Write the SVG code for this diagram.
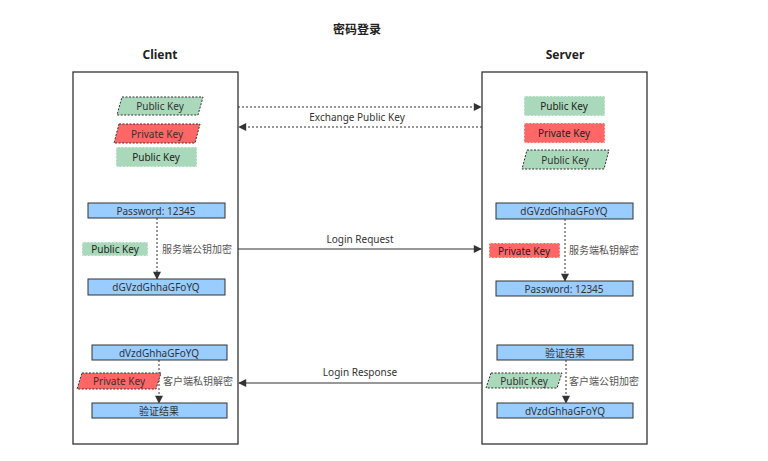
<svg xmlns="http://www.w3.org/2000/svg" width="768" height="461" viewBox="0 0 768 461">
<style>
text{font-family:"Noto Sans","Noto Sans CJK SC",sans-serif;font-size:10px;fill:#333;text-anchor:middle;dominant-baseline:central}
.h{font-size:12px;font-weight:bold;fill:#222}
.lane{fill:#fff;stroke:#333;stroke-width:1.3}
.b{fill:#99ccff;stroke:#333;stroke-width:1}
.g{fill:#a9d9ba}
.r{fill:#ff6666}
.dk{stroke:#333;stroke-width:1;stroke-dasharray:2 1.5}
.lt{stroke:#fff;stroke-width:1;stroke-dasharray:2 1.5}
.lg{fill:#555;text-anchor:start}
.cn{fill:none;stroke:#333;stroke-width:1}
.dot{stroke-dasharray:2 2}
</style>
<defs>
<marker id="ah" viewBox="0 0 10 10" refX="9" refY="5" markerWidth="10" markerHeight="8" orient="auto" markerUnits="userSpaceOnUse"><path d="M0,0 L10,5 L0,10 Z" fill="#333"/></marker>
</defs>
<text x="357" y="29" class="h">密码登录</text>
<g id="client">
<text x="160" y="54" class="h">Client</text>
<rect class="lane" x="73" y="72" width="165" height="372"/>
</g>
<g id="server">
<text x="565" y="54" class="h">Server</text>
<rect class="lane" x="482" y="72" width="165" height="372"/>
</g>
<g id="connectors">
<line class="cn dot" x1="238" y1="107" x2="481" y2="107" marker-end="url(#ah)"/>
<line class="cn dot" x1="482" y1="127" x2="239" y2="127" marker-end="url(#ah)"/>
<line class="cn" x1="238" y1="249" x2="481" y2="249" marker-end="url(#ah)"/>
<line class="cn" x1="482" y1="383" x2="239" y2="383" marker-end="url(#ah)"/>
<line class="cn dot" x1="157" y1="218" x2="157" y2="279" marker-end="url(#ah)"/>
<line class="cn dot" x1="565" y1="219" x2="565" y2="281" marker-end="url(#ah)"/>
<line class="cn dot" x1="159" y1="360" x2="159" y2="403" marker-end="url(#ah)"/>
<line class="cn dot" x1="566" y1="360" x2="566" y2="403" marker-end="url(#ah)"/>
</g>
<g id="conn-labels">
<text x="357" y="117">Exchange Public Key</text>
<text x="360" y="239">Login Request</text>
<text x="360" y="372">Login Response</text>
</g>
<g id="c-pub1"><polygon class="g dk" points="122,97 203,97 198,115 117,115"/><text x="160" y="106">Public Key</text></g>
<g id="c-priv"><polygon class="r dk" points="119,124 200,124 195,143 114,143"/><text x="157" y="133.5">Private Key</text></g>
<g id="c-pub2"><rect class="g lt" x="116" y="147" width="81" height="20"/><text x="156" y="157" style="fill:#222">Public Key</text></g>
<g id="s-pub1"><rect class="g lt" x="524" y="96" width="81" height="20"/><text x="564" y="106" style="fill:#222">Public Key</text></g>
<g id="s-priv"><rect class="r lt" x="524" y="123" width="81" height="20"/><text x="564" y="133" style="fill:#222">Private Key</text></g>
<g id="s-pub2"><polygon class="g dk" points="527,150 609,150 604,169 522,169"/><text x="565" y="159.5">Public Key</text></g>
<g id="c-pass"><rect class="b" x="88" y="203" width="137" height="15"/><text x="156" y="210.5">Password: 12345</text></g>
<g id="c-key2"><rect class="g lt" x="82" y="242" width="66" height="14"/><text x="115" y="249" style="fill:#222">Public Key</text></g>
<text class="lg" x="162" y="249">服务端公钥加密</text>
<g id="c-enc"><rect class="b" x="88" y="279" width="137" height="16"/><text x="156" y="287">dGVzdGhhaGFoYQ</text></g>
<g id="s-enc"><rect class="b" x="496" y="203" width="137" height="16"/><text x="564" y="211">dGVzdGhhaGFoYQ</text></g>
<g id="s-key2"><rect class="r lt" x="489" y="243" width="71" height="15"/><text x="524" y="250.5" style="fill:#222">Private Key</text></g>
<text class="lg" x="569" y="250">服务端私钥解密</text>
<g id="s-pass"><rect class="b" x="496" y="281" width="137" height="15"/><text x="564" y="288.5">Password: 12345</text></g>
<g id="c-resp"><rect class="b" x="92" y="345" width="135" height="15"/><text x="159" y="352.5">dVzdGhhaGFoYQ</text></g>
<g id="c-key3"><polygon class="r dk" points="82,373 161,373 156,389 77,389"/><text x="119" y="381">Private Key</text></g>
<text class="lg" x="163" y="381">客户端私钥解密</text>
<g id="c-ver"><rect class="b" x="92" y="403" width="135" height="15"/><text x="159" y="410.5">验证结果</text></g>
<g id="s-ver"><rect class="b" x="497" y="345" width="136" height="15"/><text x="565" y="352.5">验证结果</text></g>
<g id="s-key3"><polygon class="g dk" points="491,373 562,373 557,388 486,388"/><text x="524" y="380.5">Public Key</text></g>
<text class="lg" x="569" y="381">客户端公钥加密</text>
<g id="s-resp"><rect class="b" x="497" y="403" width="136" height="15"/><text x="565" y="410.5">dVzdGhhaGFoYQ</text></g>
</svg>
